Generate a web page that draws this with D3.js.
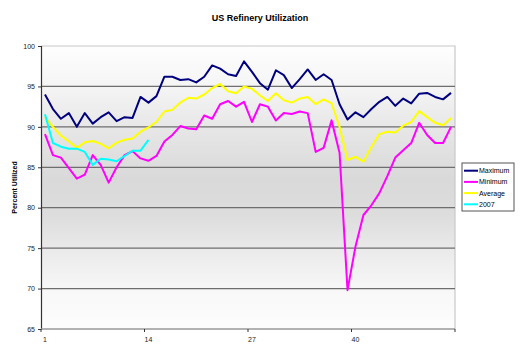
<!DOCTYPE html>
<html><head><meta charset="utf-8">
<script src="https://cdn.jsdelivr.net/npm/d3@7"></script>
<style>body{margin:0;background:#fff}svg{display:block;font-family:"Liberation Sans",Arial,sans-serif}</style>
</head><body>
<svg id="chart" width="520" height="355"></svg>
<script>
const weeks = d3.range(1, 53);
const maximum = [94.0,92.2,91.0,91.7,90.0,91.7,90.4,91.2,91.8,90.7,
  91.2,91.1,93.7,93.0,93.8,96.2,96.2,95.8,95.9,95.5,
  96.2,97.6,97.2,96.5,96.3,98.1,96.8,95.4,94.6,97.0,
  96.4,94.8,95.9,97.1,95.8,96.5,95.8,92.8,90.9,91.8,
  91.2,92.2,93.1,93.7,92.6,93.5,92.9,94.1,94.2,93.7,93.4,94.2];
const minimum = [89.1,86.5,86.2,84.9,83.6,84.1,86.5,85.3,83.1,85.0,
  86.5,87.0,86.1,85.8,86.4,88.2,89.0,90.1,89.8,89.7,
  91.4,91.0,92.8,93.2,92.5,93.1,90.6,92.8,92.5,90.8,
  91.7,91.6,91.9,91.7,86.9,87.4,90.8,86.8,69.8,75.2,
  79.1,80.3,81.8,83.9,86.2,87.1,88.0,90.5,89.0,88.0,88.0,90.0];
const average = [91.2,90.0,88.9,88.2,87.4,88.1,88.25,87.9,87.35,88.05,
  88.4,88.55,89.4,89.95,90.6,91.9,92.1,93.0,93.6,93.5,
  94.0,94.8,95.3,94.4,94.15,95.0,94.7,93.9,93.2,94.15,
  93.3,93.0,93.5,93.7,92.8,93.4,92.9,90.0,85.9,86.3,
  85.7,87.5,89.1,89.4,89.3,90.15,90.6,91.95,91.2,90.5,90.2,91.1];
const y2007 = [91.55,88.0,87.55,87.3,87.3,86.9,85.3,86.05,85.95,85.75,86.4,87.05,87.05,88.4];
const seriesNames = ["Maximum","Minimum","Average","2007"];
const seriesColors = ["#000080","#ff00ff","#ffff00","#00ffff"];
const yTicks = [65,70,75,80,85,90,95,100];
const xTickLabels = [1,14,27,40];

const svg = d3.select("#chart");
const L = 41, R = 455, T = 46, B = 329;
const x = d3.scaleBand().domain(weeks).range([L, R]).padding(0);
const y = d3.scaleLinear().domain([65, 100]).range([B, T]);
const cx = d => x(d) + x.bandwidth() / 2;

const defs = svg.append("defs");
const g = defs.append("linearGradient").attr("id", "bg").attr("x1", 0).attr("y1", 0).attr("x2", 0).attr("y2", 1);
[[0,"#fefefe"],[0.15,"#f4f4f4"],[0.3,"#e6e6e6"],[0.47,"#d9d9d9"],[0.6,"#dddddd"],[0.74,"#ececec"],[0.87,"#f8f8f8"],[1,"#fdfdfd"]]
  .forEach(s => g.append("stop").attr("offset", s[0]).attr("stop-color", s[1]));
svg.append("rect").attr("x", L).attr("y", T).attr("width", R - L).attr("height", B - T).attr("fill", "url(#bg)");

svg.append("path").attr("d", `M${L},${T}H${R}V${B}`).attr("fill", "none").attr("stroke", "#c8c8c8").attr("stroke-width", 1.2);

svg.append("g").selectAll("line").data(yTicks.filter(t => t > 65 && t < 100)).join("line")
  .attr("x1", L).attr("x2", R).attr("y1", d => y(d)).attr("y2", d => y(d))
  .attr("stroke", "#6e6e6e").attr("stroke-width", 1.2);

const ya = svg.append("g").attr("transform", `translate(${L},0)`)
  .call(d3.axisLeft(y).tickValues(yTicks).tickSize(3).tickPadding(3));
ya.select(".domain").attr("stroke", "#333").attr("stroke-width", 1.2);
ya.selectAll(".tick line").attr("stroke", "#333");
ya.selectAll(".tick text").attr("font-size", 7).attr("fill", "#222").attr("font-family", '"Liberation Sans",Arial,sans-serif');

const xa = svg.append("g").attr("transform", `translate(0,${B})`);
xa.append("line").attr("x1", L).attr("x2", R).attr("y1", 0).attr("y2", 0).attr("stroke", "#999").attr("stroke-width", 1.5);
xa.selectAll("line.tk").data(xTickLabels.map(d => x(d)).concat([R])).join("line").attr("class", "tk")
  .attr("x1", d => d).attr("x2", d => d).attr("y1", 0).attr("y2", 3).attr("stroke", "#333");
xa.selectAll("text").data(xTickLabels).join("text")
  .attr("x", d => cx(d)).attr("y", 13).attr("text-anchor", "middle")
  .attr("font-size", 7).attr("fill", "#222").text(d => d);

const allSeries = [maximum, minimum, average, y2007];
const line = d3.line().x((d, i) => cx(weeks[i])).y(d => y(d));
allSeries.forEach((s, k) => {
  svg.append("path").datum(s).attr("fill", "none").attr("stroke", seriesColors[k])
    .attr("stroke-width", 2).attr("stroke-linejoin", "round").attr("d", line);
});

svg.append("text").attr("x", 260).attr("y", 20.5).attr("text-anchor", "middle")
  .attr("font-size", 9).attr("font-weight", "bold").attr("fill", "#000").text("US Refinery Utilization");

svg.append("text").attr("transform", `translate(17,${(T + B) / 2}) rotate(-90)`).attr("text-anchor", "middle")
  .attr("font-size", 7).attr("font-weight", "bold").attr("fill", "#000").text("Percent Utilized");

const lg = svg.append("g");
lg.append("rect").attr("x", 462).attr("y", 163).attr("width", 52).attr("height", 48)
  .attr("fill", "#fff").attr("stroke", "#555").attr("stroke-width", 1);
seriesNames.forEach((n, i) => {
  const yy = 170.7 + i * 11.2;
  lg.append("line").attr("x1", 464).attr("x2", 478).attr("y1", yy).attr("y2", yy)
    .attr("stroke", seriesColors[i]).attr("stroke-width", 2);
  lg.append("text").attr("x", 479).attr("y", yy + 2.5).attr("font-size", 7).attr("fill", "#000").text(n);
});
</script>
</body></html>
